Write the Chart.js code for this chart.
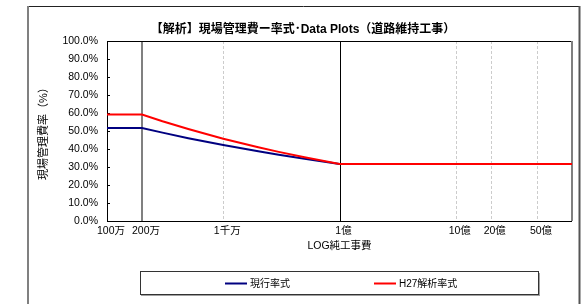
<!DOCTYPE html>
<html><head><meta charset="utf-8">
<script src="https://cdn.jsdelivr.net/npm/chart.js@4.4.1/dist/chart.umd.min.js"></script>
<style>html,body{margin:0;padding:0;background:#fff;overflow:hidden}#wrap{width:582px;height:304px;position:relative}</style>
</head><body><div id="wrap"><canvas id="c" width="582" height="304"></canvas></div>
<script>
// ---- data ----
const costs = [1e6, 2e6, 3e6, 5e6, 1e7, 2e7, 3e7, 5e7, 1e8, 1e10];
const currentRate = [51.6, 51.6, 49.1, 46.0, 42.2, 38.7, 36.8, 34.6, 31.7, 31.7];
const h27Rate = [59.1, 59.1, 55.4, 51.1, 45.7, 41.0, 38.4, 35.4, 31.7, 31.7];
const seriesNames = ['現行率式', 'H27解析率式'];
const xTickValues = [1e6, 2e6, 1e7, 1e8, 1e9, 2e9, 5e9];
const xTickLabels = ['100万', '200万', '1千万', '1億', '10億', '20億', '50億'];
const refLineValues = [2e6, 1e7, 1e8, 1e9, 2e9, 5e9, 1e10];
const yTickValues = [0, 10, 20, 30, 40, 50, 60, 70, 80, 90, 100];
const titleText = '【解析】現場管理費ー率式･Data Plots（道路維持工事）';
const xTitle = 'LOG純工事費';
const yTitle = '現場管理費率（%）';

const FONT = '"Liberation Sans", Arial, "Noto Sans CJK JP", sans-serif';
const colors = ['#000080', '#ff0000'];

function refStyle(v) {
  if (v === 2e6 || v === 1e10) return {c: '#808080', w: 2, d: []};
  if (v === 1e8) return {c: '#000000', w: 1, d: []};
  return {c: '#cccccc', w: 1, d: [3, 2]};
}

const decor = {
  id: 'decor',
  beforeDraw(chart) {
    const ctx = chart.ctx;
    ctx.save();
    ctx.fillStyle = '#fff';
    ctx.fillRect(0, 0, chart.width, chart.height);
    ctx.strokeStyle = '#222';
    ctx.lineWidth = 1;
    ctx.beginPath(); ctx.moveTo(27, 6.5); ctx.lineTo(580, 6.5); ctx.stroke();
    ctx.strokeStyle = '#808080'; ctx.lineWidth = 2;
    ctx.beginPath(); ctx.moveTo(28, 6); ctx.lineTo(28, 304); ctx.stroke();
    ctx.strokeStyle = '#555'; ctx.lineWidth = 2;
    ctx.beginPath(); ctx.moveTo(579.5, 6); ctx.lineTo(579.5, 304); ctx.stroke();
    ctx.restore();
  },
  beforeDatasetsDraw(chart) {
    const {ctx, chartArea: a, scales: {x, y}} = chart;
    ctx.save();
    refLineValues.forEach(v => {
      const s = refStyle(v);
      let px = x.getPixelForValue(v);
      px = s.w % 2 ? Math.round(px) + 0.5 : Math.round(px);
      ctx.strokeStyle = s.c; ctx.lineWidth = s.w; ctx.setLineDash(s.d);
      ctx.beginPath(); ctx.moveTo(px, a.top); ctx.lineTo(px, a.bottom); ctx.stroke();
    });
    ctx.setLineDash([]);
    ctx.strokeStyle = '#000'; ctx.lineWidth = 1;
    yTickValues.forEach(v => {
      const py = Math.round(y.getPixelForValue(v)) + 0.5;
      ctx.beginPath(); ctx.moveTo(a.left, py); ctx.lineTo(a.left + 3, py); ctx.stroke();
    });
    ctx.beginPath();
    ctx.moveTo(a.right - 1, a.top + 0.5);
    ctx.lineTo(a.left + 0.5, a.top + 0.5);
    ctx.lineTo(a.left + 0.5, a.bottom + 0.5);
    ctx.lineTo(a.right, a.bottom + 0.5);
    ctx.stroke();
    ctx.restore();
  },
  afterDraw(chart) {
    const ctx = chart.ctx;
    ctx.save();
    ctx.fillStyle = '#a0a0a0';
    ctx.fillRect(141, 294, 399, 2);
    ctx.fillRect(538, 273, 2, 23);
    ctx.strokeStyle = '#333'; ctx.lineWidth = 1;
    ctx.strokeRect(140.5, 271.5, 398, 23);
    const items = [{x: 225}, {x: 374}];
    ctx.font = '10px ' + FONT;
    ctx.textBaseline = 'middle';
    ctx.textAlign = 'left';
    chart.data.datasets.forEach((ds, i) => {
      const ix = items[i].x;
      ctx.strokeStyle = ds.borderColor; ctx.lineWidth = 2;
      ctx.beginPath(); ctx.moveTo(ix, 283.5); ctx.lineTo(ix + 22, 283.5); ctx.stroke();
      ctx.fillStyle = '#000';
      ctx.fillText(ds.label, ix + 25, 284);
    });
    ctx.restore();
  }
};

new Chart(document.getElementById('c'), {
  type: 'line',
  data: {
    datasets: [
      {label: seriesNames[0], order: 1, data: costs.map((c, i) => ({x: c, y: currentRate[i]})), borderColor: colors[0], backgroundColor: colors[0], borderWidth: 2, pointRadius: 0, tension: 0},
      {label: seriesNames[1], order: 0, data: costs.map((c, i) => ({x: c, y: h27Rate[i]})), borderColor: colors[1], backgroundColor: colors[1], borderWidth: 2, pointRadius: 0, tension: 0}
    ]
  },
  options: {
    responsive: false,
    animation: false,
    events: [],
    layout: {padding: {left: 34, right: 10, top: 0, bottom: 49}},
    plugins: {
      legend: {display: false},
      tooltip: {enabled: false},
      title: {display: true, text: titleText, color: '#000', font: {family: FONT, size: 12, weight: '600'}, padding: {top: 22, bottom: 4.6}}
    },
    scales: {
      x: {
        type: 'logarithmic', min: 1e6, max: 1e10,
        afterBuildTicks(s) { s.ticks = xTickValues.map(v => ({value: v})); },
        afterFit(s) { s.height = 34; },
        ticks: {autoSkip: false, maxRotation: 0, padding: 4, labelOffset: 4, color: '#000', font: {family: FONT, size: 10.5},
          callback(v) { const i = xTickValues.indexOf(v); return i >= 0 ? xTickLabels[i] : ''; }},
        grid: {display: false, drawTicks: false},
        border: {display: false},
        title: {display: true, text: xTitle, color: '#000', font: {family: FONT, size: 10.5}, padding: {top: 4, bottom: 3}}
      },
      y: {
        min: 0, max: 100,
        afterBuildTicks(s) { s.ticks = yTickValues.map(v => ({value: v})); },
        afterFit(s) { s.width = 73; },
        ticks: {padding: 9, color: '#000', font: {family: FONT, size: 10.5}, callback: v => v.toFixed(1) + '%'},
        grid: {display: false, drawTicks: false},
        border: {display: false},
        title: {display: true, text: yTitle, color: '#000', font: {family: FONT, size: 11}, padding: {top: 3, bottom: 4}}
      }
    }
  },
  plugins: [decor]
});
</script></body></html>
